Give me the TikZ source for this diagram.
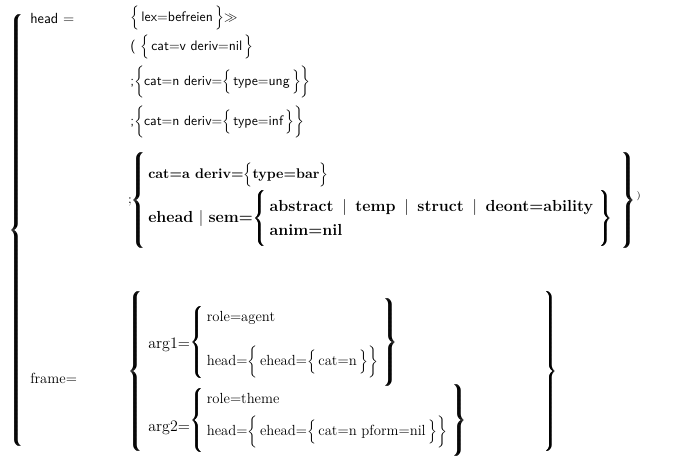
\documentclass[tikz,border=0pt]{standalone}
\usepackage{tikz}
\usetikzlibrary{positioning}
\delimiterfactor=1000
\delimitershortfall=0pt
% poor man's bold: the glyph three times, shifted sideways
\newcommand\Emb[1]{\rlap{#1}\kern0.55pt\rlap{#1}\kern0.55pt{#1}}
% braces of a given height
\newcommand\BrL[1]{\Emb{$\left\{\vcenter{\hbox{\rule{0pt}{#1}}}\right.$}}
\newcommand\BrR[1]{\Emb{$\left.\vcenter{\hbox{\rule{0pt}{#1}}}\right\}$}}
\newcommand\Bar{\ \,$|$\ \,}
\newcommand\elev{\fontsize{11}{13}\selectfont}

\begin{document}
\begin{tikzpicture}[x=0.75pt, y=-0.75pt,
feat/.style = {anchor=west, inner sep=0pt, font=\sffamily\fontsize{10.3}{12}\selectfont},
feat_r/.style = {feat, font=\rmfamily\elev},
feat_b/.style = {feat, font=\bfseries},
feat_B/.style = {feat, font=\bfseries\large},
brc/.style = {inner sep=0pt, outer sep=0pt}
]
\useasboundingbox (0,0) rectangle (696,457);

\node (outer) [brc] at (17,230) {\BrL{322pt}};

% head part
\node (head) [feat, font=\sffamily\elev] at (30,18) {head\,\,=};
\node (lex) [feat] at (130,18) {$\Big\{$\,lex=befreien\,$\Big\}$$\gg$};
\node (alt1) [feat] at (130,47) {(\,\,$\Big\{$\,cat=v deriv=nil\,$\Big\}$};
\node (alt2) [feat] at (130,82) {;$\bigg\{$cat=n deriv=$\Big\{$\,type=ung\,$\Big\}\bigg\}$};
\node (alt3) [feat] at (130,122) {;$\bigg\{$cat=n deriv=$\Big\{$\,type=inf\,$\Big\}\bigg\}$};

\node (alt4) [brc, anchor=west] at (128,200) {;\BrL{72pt}};
\node (cata) [feat_b, font=\bfseries\fontsize{10.5}{12}\selectfont] at (148,175) {cat=a deriv=$\Big\{$type=bar$\Big\}$};
\node (sem) [feat_B] at (148,218) {ehead\,\,$|$\,\,sem=};
\node (seml) [brc, right=0pt of sem] {\BrL{38pt}};
\node (abst) [feat_B, xshift=1pt] at (seml.east |- 0,207) {abstract\Bar temp\Bar struct\Bar deont=ability};
\node (anim) [feat_B, xshift=1pt] at (seml.east |- 0,230) {anim=nil};
\node (semr) [brc, anchor=west, xshift=3pt] at (abst.east |- seml) {\BrR{38pt}};
\node (alt4r) [brc, anchor=west, xshift=6pt] at (semr.east |- alt4) {\BrR{72pt}};
\node (close) [brc, right=1pt of alt4r, yshift=3pt, font=\scriptsize] {)};

% frame part
\node (frame) [feat_r] at (30,378) {frame=};
\node (frl) [brc] at (136,371) {\BrL{115pt}};
\node (frr) [brc] at (550,371) {\BrR{115pt}};

\node (arg1) [feat_r, font=\rmfamily\large] at (148,345) {arg1=};
\node (a1l) [brc, right=0pt of arg1, yshift=2pt] {\BrL{54pt}};
\node (role1) [feat_r, xshift=1pt] at (a1l.east |- 0,318) {role=agent};
\node (hd1) [feat_r, xshift=1pt] at (a1l.east |- 0,362) {head=$\bigg\{$\,ehead=$\Big\{$\,cat=n\,$\Big\}\bigg\}$};
\node (a1r) [brc, anchor=west, xshift=3pt] at (hd1.east |- a1l) {\BrR{62pt}};

\node (arg2) [feat_r, font=\rmfamily\large] at (148,428) {arg2=};
\node (a2l) [brc, right=0pt of arg2, yshift=6pt] {\BrL{44pt}};
\node (role2) [feat_r, xshift=1pt] at (a2l.east |- 0,398) {role=theme};
\node (hd2) [feat_r, xshift=1pt] at (a2l.east |- 0,432) {head=$\bigg\{$\,ehead=$\Big\{$\,cat=n pform=nil\,$\Big\}\bigg\}$};
\node (a2r) [brc, anchor=west, xshift=3pt] at (hd2.east |- a2l) {\BrR{50pt}};
\end{tikzpicture}
\end{document}
